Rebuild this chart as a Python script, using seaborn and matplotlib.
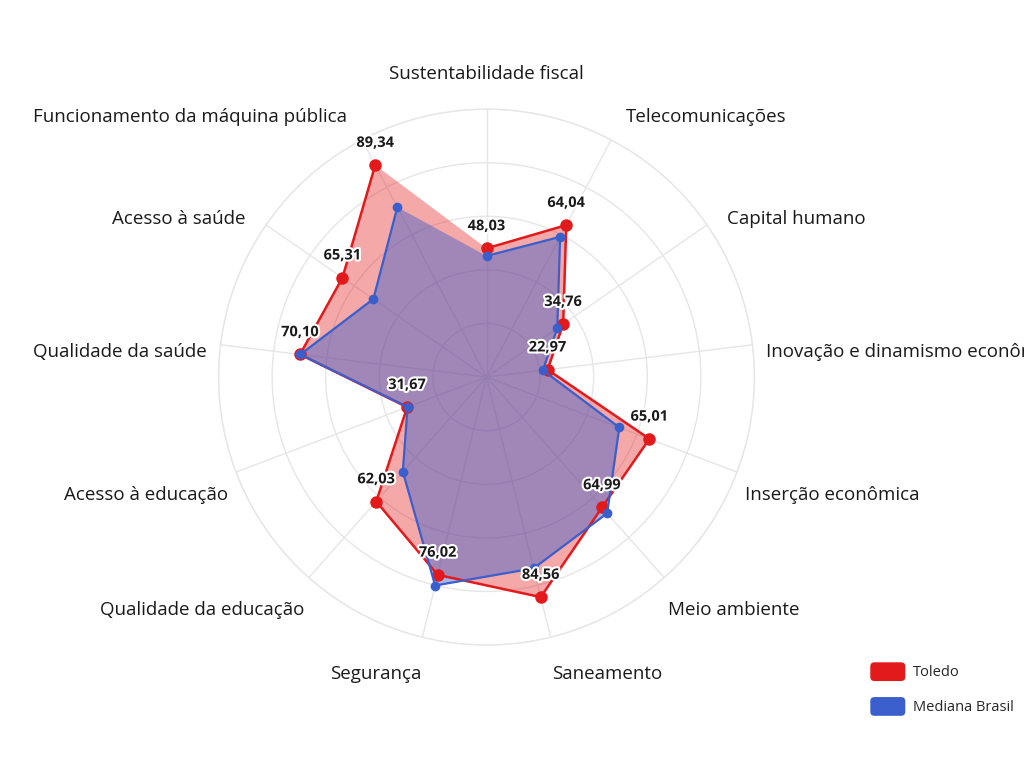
import numpy as np
import matplotlib
matplotlib.use("Agg")
import matplotlib.pyplot as plt
import matplotlib.patheffects as pe
from matplotlib.patches import Patch, FancyBboxPatch
from matplotlib.legend_handler import HandlerPatch
import seaborn as sns

categories = [
    "Sustentabilidade fiscal",
    "Telecomunicações",
    "Capital humano",
    "Inovação e dinamismo econômico",
    "Inserção econômica",
    "Meio ambiente",
    "Saneamento",
    "Segurança",
    "Qualidade da educação",
    "Acesso à educação",
    "Qualidade da saúde",
    "Acesso à saúde",
    "Funcionamento da máquina pública",
]
toledo = [48.03, 64.04, 34.76, 22.97, 65.01, 64.99, 84.56, 76.02, 62.03, 31.67, 70.10, 65.31, 89.34]
mediana = [45.2, 59.1, 32.1, 21.2, 53.0, 67.9, 73.5, 80.1, 47.1, 31.5, 70.0, 51.3, 71.6]
series_names = ["Toledo", "Mediana Brasil"]

RED = "#e31a1c"
BLUE = "#3a5fcd"
GRID = "#e6e6e6"

sns.set_theme(style="white")
plt.rcParams["font.family"] = ["Open Sans", "DejaVu Sans"]

n = len(categories)
theta = np.arange(n) * 2 * np.pi / n
theta_c = np.append(theta, theta[0])
tol_c = np.append(toledo, toledo[0])
med_c = np.append(mediana, mediana[0])

fig = plt.figure(figsize=(10.24, 7.68), dpi=100)
ax = fig.add_axes([0.2134, 0.156, 0.5234, 0.706], projection="polar")
ax.set_theta_offset(np.pi / 2)
ax.set_theta_direction(-1)
ax.set_ylim(0, 100)
ax.set_yticks([20, 40, 60, 80, 100])
ax.set_yticklabels([])
ax.set_xticks(theta)
ax.set_xticklabels([])
ax.grid(True, color=GRID, linewidth=1.0)
ax.spines["polar"].set_color(GRID)
ax.spines["polar"].set_linewidth(1.0)
ax.set_facecolor("white")

# fills
ax.fill(theta_c, tol_c, color=RED, alpha=0.38, linewidth=0, zorder=2)
ax.fill(theta_c, med_c, color=BLUE, alpha=0.45, linewidth=0, zorder=3)

# lines with markers
sns.lineplot(x=theta_c, y=tol_c, sort=False, ax=ax, color=RED, linewidth=1.8,
             marker="o", markersize=9, markeredgewidth=0, zorder=4)
sns.lineplot(x=theta_c, y=med_c, sort=False, ax=ax, color=BLUE, linewidth=1.6,
             marker="o", markersize=7, markeredgewidth=0, zorder=5)

# value labels (Toledo)
for t, v in zip(theta, toledo):
    ax.annotate(f"{v:.2f}".replace(".", ","), xy=(t, v), xytext=(0, 16),
                textcoords="offset points", ha="center", va="center",
                fontsize=10.5, fontweight="bold", color="#1a1a1a", zorder=6,
                path_effects=[pe.withStroke(linewidth=3, foreground="white")])

# category labels
for t, lab in zip(theta, categories):
    s, c = np.sin(t), np.cos(t)
    if s > 0.1:
        ha = "left"
    elif s < -0.1:
        ha = "right"
    else:
        ha = "center"
    r = 104 + 9 * abs(c)
    if c >= 0:
        dy = -9 * abs(s) ** 0.6
        dx = 0.0
    else:
        dy = -17 * abs(s)
        dx = -np.sign(s) * 30 * abs(s) * (-c)
    ax.annotate(lab, xy=(t, r), xytext=(dx, dy), textcoords="offset pixels",
                ha=ha, va="center", fontsize=13.5, color="#1a1a1a",
                annotation_clip=False)


class RoundHandler(HandlerPatch):
    def create_artists(self, legend, orig_handle, xdescent, ydescent, width,
                       height, fontsize, trans):
        p = FancyBboxPatch((-xdescent, -ydescent), width, height,
                           boxstyle="round,pad=0,rounding_size=3",
                           facecolor=orig_handle.get_facecolor(),
                           edgecolor="none", transform=trans)
        return [p]


handles = [Patch(facecolor=RED), Patch(facecolor=BLUE)]
fig.legend(handles, series_names, loc="upper left",
           bbox_to_anchor=(863 / 1024, 1 - 655 / 768), frameon=False,
           fontsize=10.5, handlelength=2.4, handleheight=1.6,
           handletextpad=0.55, labelspacing=1.1, borderpad=0,
           handler_map={Patch: RoundHandler()})

fig.savefig("out.png", dpi=100, facecolor="white")
